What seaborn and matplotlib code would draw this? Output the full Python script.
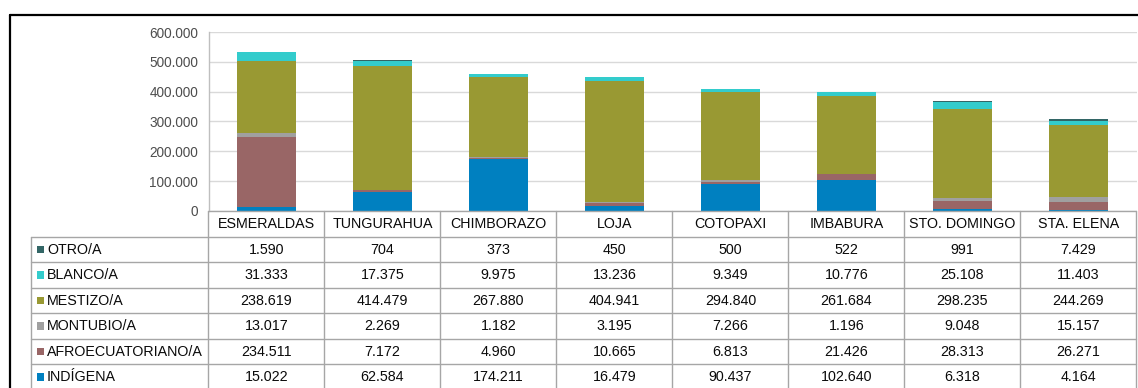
import numpy as np
import matplotlib
matplotlib.use("Agg")
import matplotlib.pyplot as plt
import seaborn as sns
from matplotlib.patches import Rectangle
from matplotlib.ticker import FuncFormatter

# Population by self-identified ethnicity, per province
provincias = ["ESMERALDAS", "TUNGURAHUA", "CHIMBORAZO", "LOJA",
              "COTOPAXI", "IMBABURA", "STO. DOMINGO", "STA. ELENA"]
indigena = [15022, 62584, 174211, 16479, 90437, 102640, 6318, 4164]
afroecuatoriano = [234511, 7172, 4960, 10665, 6813, 21426, 28313, 26271]
montubio = [13017, 2269, 1182, 3195, 7266, 1196, 9048, 15157]
mestizo = [238619, 414479, 267880, 404941, 294840, 261684, 298235, 244269]
blanco = [31333, 17375, 9975, 13236, 9349, 10776, 25108, 11403]
otro = [1590, 704, 373, 450, 500, 522, 991, 7429]

# stacking order, bottom to top
grupos = ["INDÍGENA", "AFROECUATORIANO/A", "MONTUBIO/A", "MESTIZO/A", "BLANCO/A", "OTRO/A"]
valores = [indigena, afroecuatoriano, montubio, mestizo, blanco, otro]
colores = ["#0080C0", "#996666", "#A0A0A0", "#999933", "#33CCCC", "#336666"]

sns.set_theme(style="white")
plt.rcParams["font.family"] = ["Liberation Sans", "DejaVu Sans"]

W, H = 1138, 388
fig = plt.figure(figsize=(W / 100, H / 100), dpi=100)


def fx(px):
    return px / W


def fy(py):
    return 1 - py / H


x0, x1 = 208.5, 1136.5
y_top, y_base = 32, 211
ax = fig.add_axes([fx(x0), fy(y_base), fx(x1) - fx(x0), fy(y_top) - fy(y_base)])

cum = np.cumsum(np.array(valores, dtype=float), axis=0)
for i in reversed(range(len(grupos))):
    sns.barplot(x=provincias, y=cum[i], color=colores[i], saturation=1,
                width=0.516, ax=ax, zorder=3, linewidth=0, edgecolor="none")

ax.set_xlim(-0.5, len(provincias) - 0.5)
ax.set_ylim(0, 600000)
ax.set_yticks(np.arange(0, 600001, 100000))
ax.yaxis.set_major_formatter(FuncFormatter(lambda v, p: f"{int(v):,}".replace(",", ".")))
ax.tick_params(axis="x", length=0, labelbottom=False)
ax.tick_params(axis="y", length=0, pad=7.5, labelsize=9.8, labelcolor="#4D4D4D")
ax.set_xlabel("")
ax.set_ylabel("")
ax.grid(axis="y", color="#D9D9D9", linewidth=1.0, zorder=0)
ax.set_axisbelow(True)
for s in ["top", "right", "bottom"]:
    ax.spines[s].set_visible(False)
ax.spines["left"].set_color("#BFBFBF")
ax.spines["left"].set_linewidth(1.0)

# data table below the chart
tab = fig.add_axes([0, 0, 1, 1], zorder=5)
tab.set_xlim(0, W)
tab.set_ylim(H, 0)
tab.axis("off")
tab.patch.set_alpha(0)

line_c = "#A6A6A6"
col_w = (x1 - x0) / len(provincias)
row_h = 25.5
hdr_top = y_base
rows_top = hdr_top + row_h
lab_x0 = 31.5
fs = 10.3
txt_c = "#0A0A0A"

# header row
tab.plot([x0, x1], [hdr_top, hdr_top], color=line_c, lw=1)
for j in range(len(provincias) + 1):
    xv = x0 + j * col_w
    tab.plot([xv, xv], [hdr_top, H + 5], color=line_c, lw=1, clip_on=False)
tab.plot([lab_x0, lab_x0], [rows_top, H + 5], color=line_c, lw=1, clip_on=False)
for r in range(len(grupos) + 1):
    yv = rows_top + r * row_h
    tab.plot([lab_x0, x1], [yv, yv], color=line_c, lw=1)

for j, name in enumerate(provincias):
    tab.text(x0 + (j + 0.5) * col_w, hdr_top + row_h / 2 + 0.5, name,
             ha="center", va="center", fontsize=fs, color=txt_c)


def fmt(v):
    return f"{v:,}".replace(",", ".")


for r, k in enumerate(reversed(range(len(grupos)))):
    yc = rows_top + (r + 0.5) * row_h
    tab.add_patch(Rectangle((37, yc - 3.5), 7.5, 7.5, color=colores[k], lw=0))
    tab.text(47, yc + 0.5, grupos[k], ha="left", va="center", fontsize=fs, color=txt_c)
    for j, v in enumerate(valores[k]):
        tab.text(x0 + (j + 0.5) * col_w, yc + 0.5, fmt(v), ha="center", va="center",
                 fontsize=fs, color=txt_c)

# outer frame
tab.plot([10.5, W + 5], [14.5, 14.5], color="black", lw=1.6, clip_on=False)
tab.plot([10.5, 10.5], [14.5, H + 5], color="black", lw=1.6, clip_on=False)

fig.savefig("out.png", dpi=100)
